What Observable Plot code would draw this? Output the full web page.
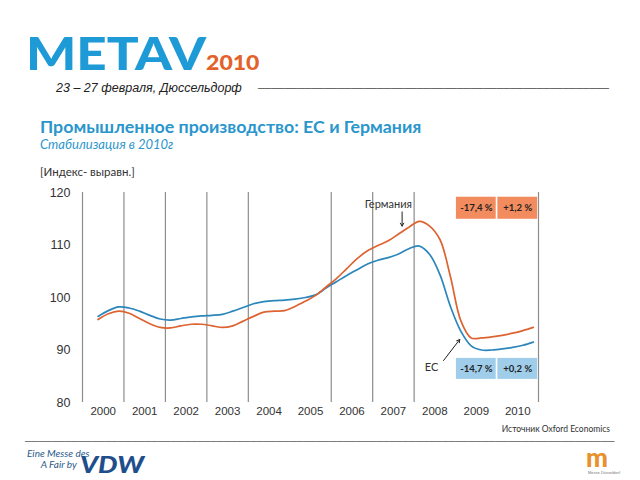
<!DOCTYPE html>
<html>
<head>
<meta charset="utf-8">
<script src="https://cdn.jsdelivr.net/npm/d3@7"></script>
<script src="https://cdn.jsdelivr.net/npm/@observablehq/plot@0.6"></script>
<style>
  body { margin: 0; background: #fff; width: 640px; height: 480px; position: relative; overflow: hidden; font-family: "Liberation Sans", Arial, sans-serif; }
  .abs { position: absolute; white-space: nowrap; }
  .rule { font-family: "DejaVu Sans Mono", monospace; letter-spacing: 0; }
  #logo { left: 26px; top: 35px; font-family: Lato, sans-serif; font-weight: 900; color: #1e9ad6; font-size: 46px; letter-spacing: 0px; line-height: 36px; transform: scaleX(1.15); transform-origin: left top; }
  #logo span { color: #e2622a; font-size: 20px; letter-spacing: 0; }
  #date { left: 56px; top: 81px; font-size: 12.5px; line-height: 15px; font-style: italic; color: #222; }
  #dateline { left: 258px; top: 83px; font-size: 11px; line-height: 11px; color: #666; }
  #title { left: 40px; top: 115px; font-family: Lato, sans-serif; font-weight: 700; color: #2a96cc; font-size: 17.8px; }
  #subtitle { left: 40px; top: 136px; font-family: Lato, sans-serif; font-style: italic; color: #2a96cc; font-size: 13px; }
  #unit { left: 40px; top: 165px; font-family: Lato, sans-serif; color: #333; font-size: 11.5px; }
  #chart { left: 0; top: 180px; }
  #source { right: 30px; top: 423px; font-family: Lato, sans-serif; font-size: 8.5px; line-height: 12px; color: #333; }
  #footline { left: 25px; top: 436px; font-size: 11px; line-height: 11px; color: #777; }
  #messe { left: 27px; top: 448px; font-family: Lato, sans-serif; font-style: italic; color: #2a5a8a; font-size: 10px; line-height: 11px; }
  #vdw { left: 80px; top: 454px; font-family: Lato, sans-serif; font-weight: 900; font-style: italic; color: #1f4e8c; font-size: 22px; line-height: 22px; letter-spacing: 0px; transform: scaleX(1.25); transform-origin: left top; }
  #mlogo { left: 586px; top: 448px; font-family: Lato, sans-serif; font-weight: 900; color: #e8902a; font-size: 26px; line-height: 19px; }
  #mtext { left: 588px; top: 470px; font-size: 4px; color: #777; line-height: 5px; }
</style>
</head>
<body>
<div id="logo" class="abs">METAV<span>2010</span></div>
<div id="date" class="abs">23 – 27 февраля, Дюссельдорф</div>
<div id="dateline" class="abs rule"></div>
<div id="title" class="abs">Промышленное производство: ЕС и Германия</div>
<div id="subtitle" class="abs">Стабилизация в 2010г</div>
<div id="unit" class="abs">[Индекс- выравн.]</div>
<div id="chart" class="abs"></div>
<div id="source" class="abs">Источник Oxford Economics</div>
<div id="footline" class="abs rule"></div>
<div id="messe" class="abs">Eine Messe des<br>&nbsp;&nbsp;&nbsp;&nbsp;&nbsp;&nbsp;A Fair by</div>
<div id="vdw" class="abs">VDW</div>
<div id="mlogo" class="abs">m</div>
<div id="mtext" class="abs">Messe Düsseldorf</div>
<script>
// Quarterly time points (decimal years, quarter mid-points)
const quarters = [
  2000.375, 2000.625, 2000.875,
  2001.125, 2001.375, 2001.625, 2001.875,
  2002.125, 2002.375, 2002.625, 2002.875,
  2003.125, 2003.375, 2003.625, 2003.875,
  2004.125, 2004.375, 2004.625, 2004.875,
  2005.125, 2005.375, 2005.625, 2005.875,
  2006.125, 2006.375, 2006.625, 2006.875,
  2007.125, 2007.375, 2007.625, 2007.875,
  2008.125, 2008.375, 2008.625, 2008.875,
  2009.125, 2009.375, 2009.625, 2009.875,
  2010.125, 2010.375, 2010.625, 2010.875
];
const euValues = [
  96.4, 97.5, 98.2,
  98.0, 97.4, 96.6, 95.9,
  95.7, 96.0, 96.3, 96.5,
  96.6, 96.8, 97.4, 98.1,
  98.8, 99.2, 99.4, 99.5,
  99.7, 100.0, 100.5, 101.8,
  103.0, 104.2, 105.3, 106.4,
  107.1, 107.6, 108.3, 109.3,
  109.8, 108.2, 104.3, 98.3,
  93.6, 90.8, 90.0, 90.0,
  90.2, 90.5, 90.9, 91.5
];
const deValues = [
  95.8, 96.9, 97.4,
  97.0, 96.0, 95.0, 94.3,
  94.2, 94.6, 94.9, 94.9,
  94.6, 94.3, 94.6, 95.5,
  96.4, 97.2, 97.4, 97.5,
  98.3, 99.3, 100.4, 102.0,
  103.6, 105.5, 107.4, 108.9,
  109.9, 110.8, 112.1, 113.4,
  114.5, 113.6, 111.0, 104.0,
  95.6, 92.3, 92.3, 92.5,
  92.8, 93.2, 93.7, 94.3
];
const years = [2000, 2001, 2002, 2003, 2004, 2005, 2006, 2007, 2008, 2009, 2010];
const dividerYears = [2000, 2001, 2002, 2003, 2004, 2006, 2007, 2008, 2011];
const yTicks = [80, 90, 100, 110, 120];
// change boxes: [start year, label]
const deBoxes = [[2009, "-17,4 %"], [2010, "+1,2 %"]];
const euBoxes = [[2009, "-14,7 %"], [2010, "+0,2 %"]];
const colorEU = "#2b86bb";
const colorDE = "#dd6330";

const eu = quarters.map((t, i) => ({t, v: euValues[i]}));
const de = quarters.map((t, i) => ({t, v: deValues[i]}));

const boxRows = (arr, y1, y2, fill) => arr.map(([yr, label]) => ({x1: yr + 0.02, x2: yr + 0.98, y1, y2, label, fill}));
const boxes = [...boxRows(deBoxes, 114.9, 119.1, "#f28b5e"), ...boxRows(euBoxes, 84.4, 88.4, "#9fcdea")];

const plot = Plot.plot({
  width: 640,
  height: 240,
  marginLeft: 82,
  marginRight: 102,
  marginTop: 12,
  marginBottom: 18,
  style: {fontFamily: "'Liberation Sans', Arial, sans-serif", background: "transparent"},
  x: {domain: [2000, 2011], axis: null},
  y: {domain: [80, 120], axis: null},
  marks: [
    Plot.ruleX(dividerYears, {stroke: "#8c8c8c", strokeWidth: 1.2}),
    Plot.axisY(yTicks, {tickSize: 0, tickPadding: 12, fontSize: 12.5, fill: "#333", label: null}),
    Plot.text(years, {x: d => d + 0.5, y: 80, text: d => String(d), dy: 9, fontSize: 11.5, fill: "#333"}),
    Plot.line(eu, {x: "t", y: "v", stroke: colorEU, strokeWidth: 1.7, curve: "catmull-rom"}),
    Plot.line(de, {x: "t", y: "v", stroke: colorDE, strokeWidth: 1.7, curve: "catmull-rom"}),
    Plot.rect(boxes, {x1: "x1", x2: "x2", y1: "y1", y2: "y2", fill: "fill"}),
    Plot.text(boxes, {x: d => (d.x1 + d.x2) / 2, y: d => (d.y1 + d.y2) / 2, text: "label", fontSize: 9.5, fontWeight: "bold", fill: "#222", fontFamily: "Lato, sans-serif"}),
    Plot.text([{x: 2007.38, y: 117.8, t: "Германия"}, {x: 2008.42, y: 86.6, t: "ЕС"}], {x: "x", y: "y", text: "t", fontSize: 11, fill: "#333", fontFamily: "Lato, sans-serif"}),
    Plot.arrow([{x1: 2007.71, y1: 116.3, x2: 2007.71, y2: 113.6}, {x1: 2008.71, y1: 88.0, x2: 2009.1, y2: 92.0}], {x1: "x1", y1: "y1", x2: "x2", y2: "y2", stroke: "#222", strokeWidth: 1, headLength: 5})
  ]
});
document.getElementById("chart").appendChild(plot);

// decorative separator rules made of box-drawing characters
document.getElementById("dateline").textContent = "\u2500".repeat(53);
document.getElementById("footline").textContent = "\u2500".repeat(89);
</script>
</body>
</html>
